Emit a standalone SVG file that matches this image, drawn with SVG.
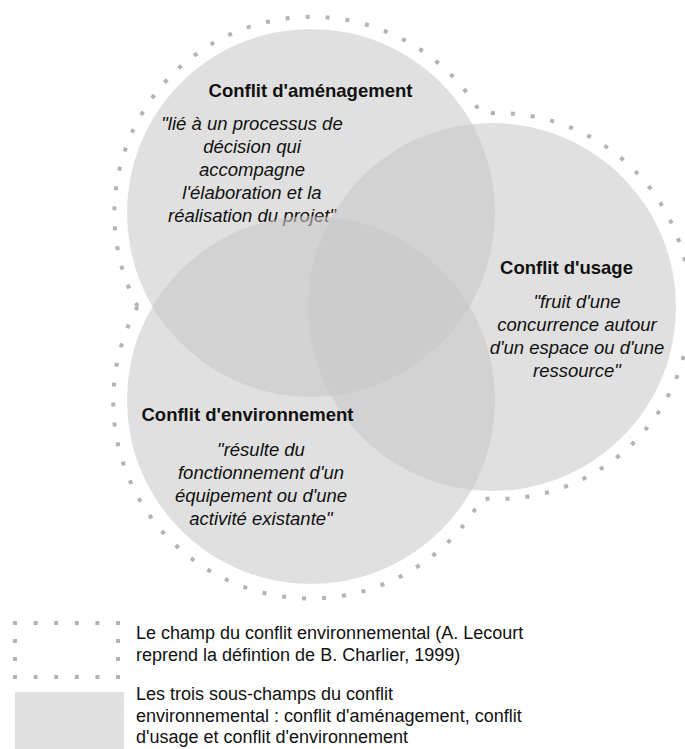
<svg xmlns="http://www.w3.org/2000/svg" width="685" height="749" viewBox="0 0 685 749">
<style>
.c{fill:#c8c8c8;fill-opacity:0.56;stroke:none}
.dots{fill:none;stroke:#b3b3b3;stroke-width:4;stroke-dasharray:4 16}
.t{font-family:"Liberation Sans",Arial,sans-serif;font-size:18.5px;fill:#111;text-anchor:middle}
.b{font-weight:bold}
.i{font-style:italic}
.lg{font-family:"Liberation Sans",Arial,sans-serif;font-size:18px;fill:#111}
</style>
<rect width="685" height="749" fill="#fff"/>
<g id="outline">
<path class="dots" d="M137.6,306.5 A197,197 0 0 1 481.1,113.7 A193,193 0 1 1 481.7,498.4 A197,197 0 0 1 137.6,306.5 Z"/>
</g>
<g id="node-amenagement">
<circle class="c" cx="311" cy="213" r="184"/>
<text class="t b" x="310.5" y="96.5">Conflit d'aménagement</text>
<text class="t i" x="252" y="130">"lié à un processus de</text>
<text class="t i" x="252" y="153">décision qui</text>
<text class="t i" x="252" y="176">accompagne</text>
<text class="t i" x="252" y="199">l'élaboration et la</text>
<text class="t i" x="252" y="222">réalisation du projet"</text>
</g>
<g id="node-usage">
<circle class="c" cx="492" cy="307" r="184"/>
<text class="t b" x="566.5" y="274">Conflit d'usage</text>
<text class="t i" x="577" y="307.5">"fruit d'une</text>
<text class="t i" x="577" y="330.5">concurrence autour</text>
<text class="t i" x="577" y="353.5">d'un espace ou d'une</text>
<text class="t i" x="577" y="376.5">ressource"</text>
</g>
<g id="node-environnement">
<circle class="c" cx="311" cy="400" r="184"/>
<text class="t b" x="247.5" y="420.5">Conflit d'environnement</text>
<text class="t i" x="261" y="456">"résulte du</text>
<text class="t i" x="261" y="479">fonctionnement d'un</text>
<text class="t i" x="261" y="502">équipement ou d'une</text>
<text class="t i" x="261" y="525">activité existante"</text>
</g>
<g id="connectors"></g>
<g id="legend">
<path class="dots" style="stroke-dasharray:4 16.6" d="M13,623 H120 M13,677 H120"/>
<path class="dots" style="stroke-dasharray:4 14" d="M15,621 V679 M118,621 V679"/>
<text class="lg" x="136" y="639">Le champ du conflit environnemental (A. Lecourt</text>
<text class="lg" x="136" y="660.5">reprend la défintion de B. Charlier, 1999)</text>
<rect x="15" y="692" width="109" height="60" fill="#e0e0e0"/>
<text class="lg" x="136" y="700">Les trois sous-champs du conflit</text>
<text class="lg" x="136" y="721.5">environnemental : conflit d'aménagement, conflit</text>
<text class="lg" x="136" y="743">d'usage et conflit d'environnement</text>
</g>
</svg>
